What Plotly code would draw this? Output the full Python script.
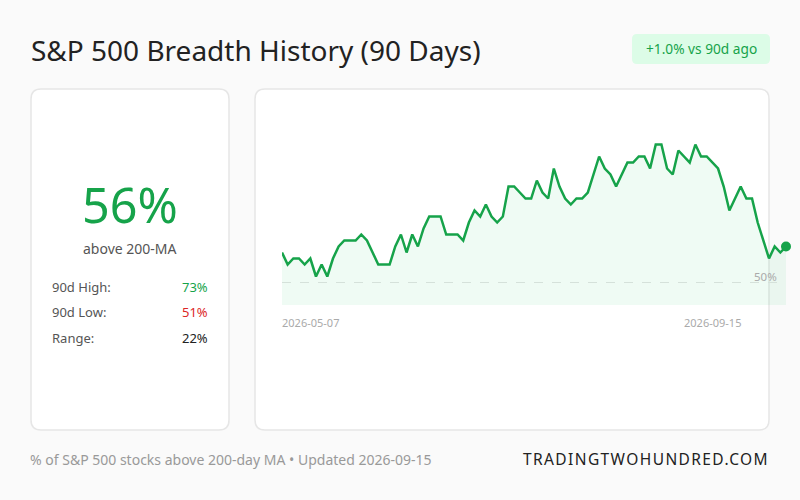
import pandas as pd
import plotly.graph_objects as go

W, H = 800, 500
FONT = "Noto Sans, Open Sans, Arial, sans-serif"
GREEN = "#16a34a"
RED = "#dc2626"

# --- data: % of S&P 500 stocks above 200-day MA, last 90 sessions ---
nyse_holidays = ["2026-05-25", "2026-06-19", "2026-07-03", "2026-09-07"]
dates = (pd.bdate_range("2026-05-07", "2026-09-15", freq="C", holidays=nyse_holidays)
         .strftime("%Y-%m-%d").tolist())
pct_above = [55, 53, 54, 54, 53, 54, 51, 53, 51, 54,
             56, 57, 57, 57, 58, 57, 55, 53, 53, 53,
             56, 58, 55, 58, 56, 59, 61, 61, 61, 58,
             58, 58, 57, 60, 62, 61, 63, 61, 60, 61,
             66, 66, 65, 64, 64, 67, 65, 64, 69, 66,
             64, 63, 64, 64, 65, 68, 71, 69, 68, 66,
             68, 70, 70, 71, 71, 69, 73, 73, 69, 68,
             72, 71, 70, 73, 71, 71, 70, 69, 66, 62,
             64, 66, 64, 64, 60, 57, 54, 56, 55, 56]
ref_level = 50

current = pct_above[-1]
hi, lo = max(pct_above), min(pct_above)
change = current - pct_above[0]


def X(px):
    return px / W


def Y(py):
    return 1 - py / H


def rrect(x0, y0, x1, y1, r):
    """Rounded rectangle path in paper coords, from pixel box."""
    pts = [
        f"M {X(x0 + r)},{Y(y0)}", f"L {X(x1 - r)},{Y(y0)}",
        f"Q {X(x1)},{Y(y0)} {X(x1)},{Y(y0 + r)}", f"L {X(x1)},{Y(y1 - r)}",
        f"Q {X(x1)},{Y(y1)} {X(x1 - r)},{Y(y1)}", f"L {X(x0 + r)},{Y(y1)}",
        f"Q {X(x0)},{Y(y1)} {X(x0)},{Y(y1 - r)}", f"L {X(x0)},{Y(y0 + r)}",
        f"Q {X(x0)},{Y(y0)} {X(x0 + r)},{Y(y0)}", "Z",
    ]
    return " ".join(pts)


def label(text, x, y, size, color, anchor="left"):
    return dict(text=text, x=X(x), y=Y(y), xref="paper", yref="paper",
                xanchor=anchor, yanchor="middle", showarrow=False, borderpad=0,
                font=dict(family=FONT, size=size, color=color))


fig = go.Figure()

fig.add_trace(go.Scatter(
    x=dates, y=pct_above, mode="lines",
    line=dict(color=GREEN, width=2.5),
    fill="tozeroy", fillcolor="rgba(34,197,94,0.07)",
    hoverinfo="skip", showlegend=False,
))
fig.add_trace(go.Scatter(
    x=[dates[-1]], y=[current], mode="markers",
    marker=dict(color=GREEN, size=10), cliponaxis=False,
    hoverinfo="skip", showlegend=False,
))

shapes = [
    dict(type="path", path=rrect(31, 89, 229, 430, 10), xref="paper", yref="paper",
         fillcolor="white", line=dict(color="#e6e6e6", width=1.5), layer="below"),
    dict(type="path", path=rrect(255, 89, 769, 430, 10), xref="paper", yref="paper",
         fillcolor="white", line=dict(color="#e6e6e6", width=1.5), layer="below"),
    dict(type="path", path=rrect(632, 34, 770, 64, 5), xref="paper", yref="paper",
         fillcolor="#dcfce7", line=dict(width=0), layer="below"),
    dict(type="line", xref="x domain", yref="y", x0=0, x1=1, y0=ref_level, y1=ref_level,
         line=dict(color="#e3e3e3", width=1, dash="dash"), layer="below"),
]

annotations = [
    label("S&amp;P 500 Breadth History (90 Days)", 30, 50, 28, "#222222"),
    label(f"{change:+.1f}% vs 90d ago", 701, 49, 13.7, GREEN, "center"),
    label(f"{current}%", 130, 204, 48.5, GREEN, "center"),
    label("above 200-MA", 130, 248, 14, "#555555", "center"),
    label("90d High:", 51, 287, 13, "#555555"),
    label(f"{hi}%", 209, 287, 13, GREEN, "right"),
    label("90d Low:", 51, 312, 13, "#555555"),
    label(f"{lo}%", 209, 312, 13, RED, "right"),
    label("Range:", 51, 338, 13, "#555555"),
    label(f"{hi - lo}%", 209, 338, 13, "#222222", "right"),
    label(f"{ref_level}%", 778, 276, 11.5, "#aaaaaa", "right"),
    label(dates[0], 281, 322, 11, "#aaaaaa"),
    label(dates[-1], 742, 322, 11, "#aaaaaa", "right"),
    label("% of S&amp;P 500 stocks above 200-day MA • Updated " + dates[-1],
          29, 459, 14, "#999999"),
    label('<span style="letter-spacing:1.4px">TRADINGTWOHUNDRED.COM</span>',
          770, 459, 15.5, "#222222", "right"),
]

fig.update_layout(
    width=W, height=H,
    margin=dict(l=0, r=0, t=0, b=0),
    paper_bgcolor="#fafafa",
    plot_bgcolor="rgba(0,0,0,0)",
    xaxis=dict(type="category", domain=[X(282), X(786)], range=[0, len(dates) - 1],
               visible=False, fixedrange=True),
    yaxis=dict(domain=[Y(305), Y(132.5)], range=[46.25, 75],
               visible=False, fixedrange=True),
    shapes=shapes,
    annotations=annotations,
    showlegend=False,
)

fig.write_html("out.html", config={"displayModeBar": False},
               post_script="document.body.style.margin='0';")
